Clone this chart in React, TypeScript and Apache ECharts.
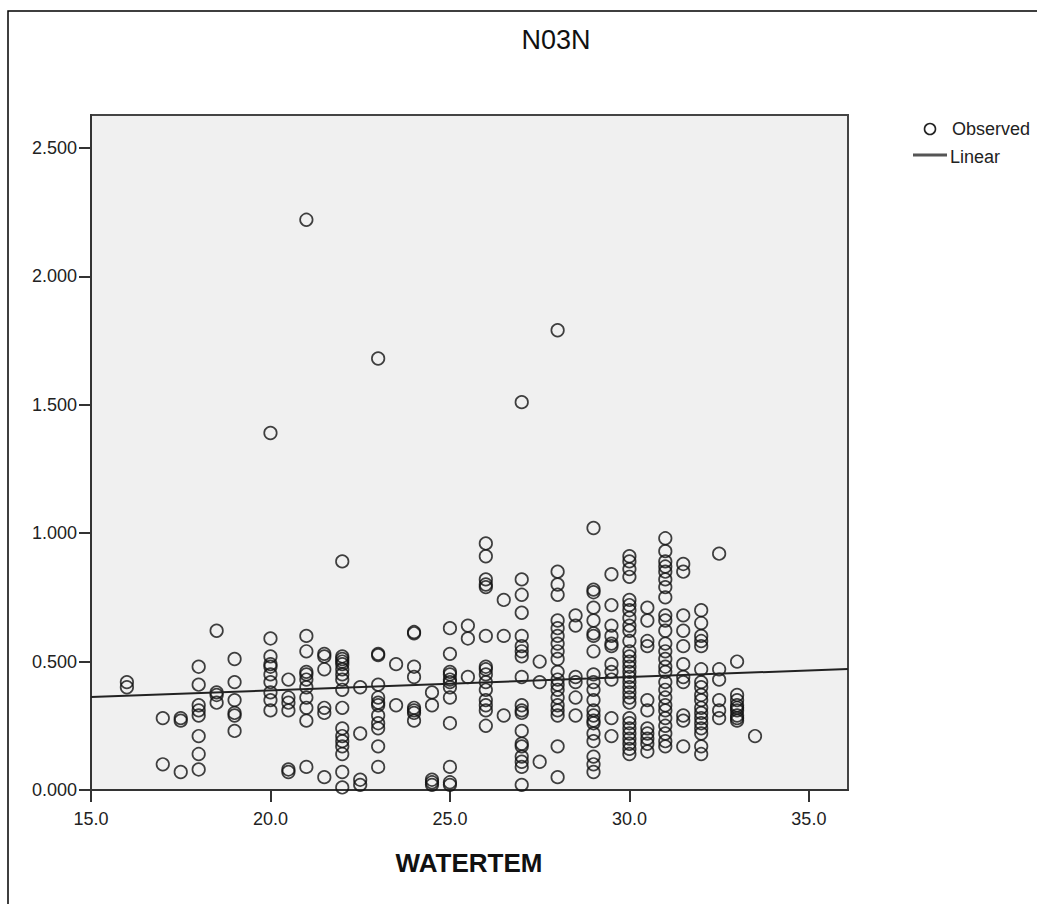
import React, { useEffect, useRef } from "react";
import * as echarts from "echarts";

// NO3N values observed at each water temperature (WATERTEM)
const t16 = [0.42, 0.4];
const t17 = [0.28, 0.1];
const t17_5 = [0.28, 0.27, 0.07];
const t18 = [0.48, 0.41, 0.33, 0.31, 0.29, 0.21, 0.14, 0.08];
const t18_5 = [0.62, 0.38, 0.37, 0.34];
const t19 = [0.51, 0.42, 0.35, 0.3, 0.29, 0.23];
const t20 = [1.39, 0.59, 0.52, 0.49, 0.48, 0.45, 0.42, 0.38, 0.35, 0.31];
const t20_5 = [0.43, 0.36, 0.34, 0.31, 0.08, 0.07];
const t21 = [2.22, 0.6, 0.54, 0.46, 0.45, 0.43, 0.4, 0.36, 0.32, 0.27, 0.09];
const t21_5 = [0.53, 0.52, 0.47, 0.32, 0.3, 0.05];
const t22 = [0.89, 0.52, 0.51, 0.5, 0.49, 0.47, 0.45, 0.43, 0.39, 0.32, 0.24, 0.21, 0.19, 0.17, 0.14, 0.07, 0.01];
const t22_5 = [0.4, 0.22, 0.04, 0.02];
const t23 = [1.68, 0.53, 0.525, 0.41, 0.36, 0.34, 0.33, 0.29, 0.26, 0.24, 0.17, 0.09];
const t23_5 = [0.49, 0.33];
const t24 = [0.61, 0.615, 0.48, 0.44, 0.32, 0.31, 0.3, 0.27];
const t24_5 = [0.38, 0.33, 0.04, 0.03, 0.02];
const t25 = [0.63, 0.53, 0.46, 0.45, 0.43, 0.42, 0.4, 0.36, 0.26, 0.09, 0.03, 0.02];
const t25_5 = [0.64, 0.59, 0.44];
const t26 = [0.96, 0.91, 0.82, 0.8, 0.79, 0.6, 0.48, 0.47, 0.45, 0.42, 0.39, 0.35, 0.33, 0.31, 0.25];
const t26_5 = [0.74, 0.6, 0.29];
const t27 = [1.51, 0.82, 0.76, 0.69, 0.6, 0.56, 0.54, 0.52, 0.44, 0.33, 0.31, 0.3, 0.23, 0.18, 0.17, 0.13, 0.11, 0.09, 0.02];
const t27_5 = [0.5, 0.42, 0.11];
const t28 = [1.79, 0.85, 0.8, 0.76, 0.66, 0.63, 0.6, 0.57, 0.54, 0.51, 0.46, 0.43, 0.41, 0.39, 0.36, 0.33, 0.31, 0.29, 0.17, 0.05];
const t28_5 = [0.68, 0.64, 0.44, 0.42, 0.36, 0.29];
const t29 = [1.02, 0.78, 0.77, 0.71, 0.66, 0.61, 0.6, 0.54, 0.45, 0.42, 0.39, 0.35, 0.31, 0.29, 0.27, 0.26, 0.22, 0.19, 0.13, 0.1, 0.07];
const t29_5 = [0.84, 0.72, 0.64, 0.6, 0.57, 0.56, 0.49, 0.46, 0.43, 0.28, 0.21];
const t30 = [0.91, 0.89, 0.86, 0.83, 0.74, 0.72, 0.7, 0.67, 0.64, 0.62, 0.58, 0.54, 0.52, 0.5, 0.48, 0.46, 0.44, 0.42, 0.4, 0.38, 0.36, 0.34, 0.28, 0.26, 0.24, 0.22, 0.2, 0.18, 0.16, 0.14];
const t30_5 = [0.71, 0.66, 0.58, 0.56, 0.35, 0.31, 0.24, 0.22, 0.2, 0.18, 0.15];
const t31 = [0.98, 0.93, 0.89, 0.87, 0.85, 0.82, 0.79, 0.75, 0.68, 0.66, 0.62, 0.57, 0.54, 0.51, 0.48, 0.46, 0.42, 0.39, 0.36, 0.33, 0.31, 0.28, 0.25, 0.22, 0.19, 0.17];
const t31_5 = [0.88, 0.85, 0.68, 0.62, 0.56, 0.49, 0.44, 0.42, 0.29, 0.27, 0.17];
const t32 = [0.7, 0.65, 0.6, 0.58, 0.56, 0.47, 0.42, 0.4, 0.37, 0.35, 0.32, 0.3, 0.28, 0.26, 0.24, 0.22, 0.17, 0.14];
const t32_5 = [0.92, 0.47, 0.43, 0.35, 0.31, 0.28];
const t33 = [0.5, 0.37, 0.35, 0.33, 0.32, 0.31, 0.29, 0.28, 0.27];
const t33_5 = [0.21];

const temperatures = [16, 17, 17.5, 18, 18.5, 19, 20, 20.5, 21, 21.5, 22, 22.5, 23, 23.5, 24, 24.5, 25, 25.5, 26, 26.5, 27, 27.5, 28, 28.5, 29, 29.5, 30, 30.5, 31, 31.5, 32, 32.5, 33, 33.5];
const columns = [t16, t17, t17_5, t18, t18_5, t19, t20, t20_5, t21, t21_5, t22, t22_5, t23, t23_5, t24, t24_5, t25, t25_5, t26, t26_5, t27, t27_5, t28, t28_5, t29, t29_5, t30, t30_5, t31, t31_5, t32, t32_5, t33, t33_5];

// Linear fit
const linearIntercept = 0.2845;
const linearSlope = 0.00517;

const xTicks = [15, 20, 25, 30, 35];
const yTicks = [0, 0.5, 1, 1.5, 2, 2.5];
const xMin = 15;
const xMax = 36.09;
const yMin = 0;
const yMax = 2.628;

const FONT = "'Liberation Sans', Arial, sans-serif";

export default function App() {
  const ref = useRef<HTMLDivElement>(null);
  useEffect(() => {
    if (!ref.current) return;
    const chart = echarts.init(ref.current, undefined, { renderer: "svg" });
    const points: number[][] = [];
    temperatures.forEach((t, i) => {
      columns[i].forEach((v) => points.push([t, v]));
    });
    const linePts = [xMin, xMax].map((x) => [x, linearIntercept + linearSlope * x]);
    chart.setOption({
      animation: false,
      backgroundColor: "#ffffff",
      grid: {
        left: 91,
        top: 115,
        right: 1037 - 848,
        bottom: 904 - 790,
        show: true,
        backgroundColor: "#f0f0f0",
        borderColor: "#444444",
        borderWidth: 2,
      },
      xAxis: {
        type: "value",
        min: xMin,
        max: xMax,
        splitLine: { show: false },
        axisLine: { show: true, lineStyle: { color: "#333", width: 2 } },
        axisTick: { show: true, length: 12, lineStyle: { color: "#333", width: 2 }, customValues: xTicks },
        axisLabel: {
          customValues: xTicks,
          margin: 20,
          color: "#222",
          fontSize: 18,
          fontFamily: FONT,
          formatter: (v: number) => v.toFixed(1),
        },
      },
      yAxis: {
        type: "value",
        min: yMin,
        max: yMax,
        splitLine: { show: false },
        axisLine: { show: true, lineStyle: { color: "#333", width: 2 } },
        axisTick: { show: true, length: 12, lineStyle: { color: "#333", width: 2 }, customValues: yTicks },
        axisLabel: {
          customValues: yTicks,
          margin: 14,
          color: "#222",
          fontSize: 18,
          fontFamily: FONT,
          formatter: (v: number) => v.toFixed(3),
        },
      },
      series: [
        {
          name: "Observed",
          type: "scatter",
          data: points,
          symbol: "circle",
          symbolSize: 12.5,
          itemStyle: { color: "rgba(0,0,0,0)", borderColor: "#111111", borderWidth: 1.7 },
          silent: true,
        },
        {
          name: "Linear",
          type: "line",
          data: linePts,
          showSymbol: false,
          lineStyle: { color: "#222", width: 2 },
          silent: true,
        },
      ],
      graphic: [
        {
          type: "rect",
          shape: { x: 8, y: 11, width: 1200, height: 1000 },
          style: { fill: "none", stroke: "#000", lineWidth: 1.5 },
          silent: true,
        },
        {
          type: "text",
          x: 556,
          y: 40,
          style: { text: "N03N", font: `27px ${FONT}`, fill: "#111", align: "center", verticalAlign: "middle" },
        },
        {
          type: "text",
          x: 469,
          y: 863,
          style: { text: "WATERTEM", font: `bold 26px ${FONT}`, fill: "#111", align: "center", verticalAlign: "middle" },
        },
        {
          type: "circle",
          shape: { cx: 930, cy: 129, r: 5.5 },
          style: { fill: "none", stroke: "#222", lineWidth: 1.6 },
        },
        {
          type: "text",
          x: 952,
          y: 129,
          style: { text: "Observed", font: `18px ${FONT}`, fill: "#222", align: "left", verticalAlign: "middle" },
        },
        {
          type: "line",
          shape: { x1: 913, y1: 155, x2: 947, y2: 155 },
          style: { stroke: "#555", lineWidth: 3 },
        },
        {
          type: "text",
          x: 950,
          y: 157,
          style: { text: "Linear", font: `18px ${FONT}`, fill: "#222", align: "left", verticalAlign: "middle" },
        },
      ],
    });
    return () => chart.dispose();
  }, []);
  return <div ref={ref} style={{ position: "fixed", left: 0, top: 0, width: 1037, height: 904 }} />;
}
